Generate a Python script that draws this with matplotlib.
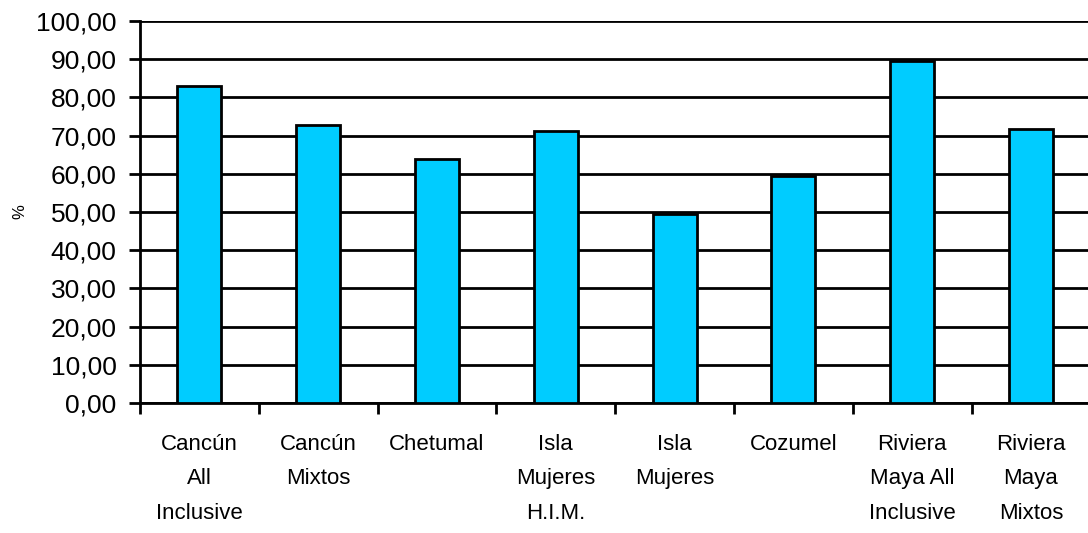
import numpy as np
from matplotlib import pyplot as plt
from matplotlib.ticker import FuncFormatter, MultipleLocator

# datos de ocupacion por zona
zonas = ['Cancún\nAll\nInclusive', 'Cancún\nMixtos', 'Chetumal', 'Isla\nMujeres\nH.I.M.',
         'Isla\nMujeres', 'Cozumel', 'Riviera\nMaya All\nInclusive', 'Riviera\nMaya\nMixtos']
ocupacion = [83.0, 72.7, 64.0, 71.2, 49.5, 59.4, 89.5, 71.8]

plt.rcParams['font.family'] = ['Liberation Sans', 'DejaVu Sans']

fig = plt.figure(figsize=(10.88, 5.33), dpi=100)
ax = fig.add_axes([140/1088, 1-403/533, 948/1088, 382/533])

X = np.arange(len(zonas))
ax.bar(X, ocupacion, width=0.37, color='#00CCFF', edgecolor='black', linewidth=2, zorder=3)

ax.set_ylim(0, 100)
ax.set_xlim(-0.5, 7.48)
ax.yaxis.set_major_locator(MultipleLocator(10))
ax.yaxis.set_major_formatter(FuncFormatter(lambda v, p: f'{v:.2f}'.replace('.', ',')))
ax.grid(axis='y', color='black', linewidth=2, zorder=1)
ax.set_axisbelow(True)

# ticks del eje x entre categorias
ax.set_xticks(np.arange(-0.5, 7.5, 1.0))
ax.set_xticklabels([])
ax.set_xticks(X, minor=True)
ax.set_xticklabels(zonas, minor=True, fontsize=16, linespacing=1.85, va='top')
ax.tick_params(axis='x', which='minor', length=0, pad=22)
ax.tick_params(axis='x', which='major', length=8, width=2, direction='out')
ax.tick_params(axis='y', length=8, width=2, labelsize=19, pad=9)

for s in ['top', 'right']:
    ax.spines[s].set_visible(False)
for s in ['left', 'bottom']:
    ax.spines[s].set_linewidth(2)

ax.set_ylabel('%', fontsize=12, labelpad=6)

plt.savefig('out.png', dpi=100)
